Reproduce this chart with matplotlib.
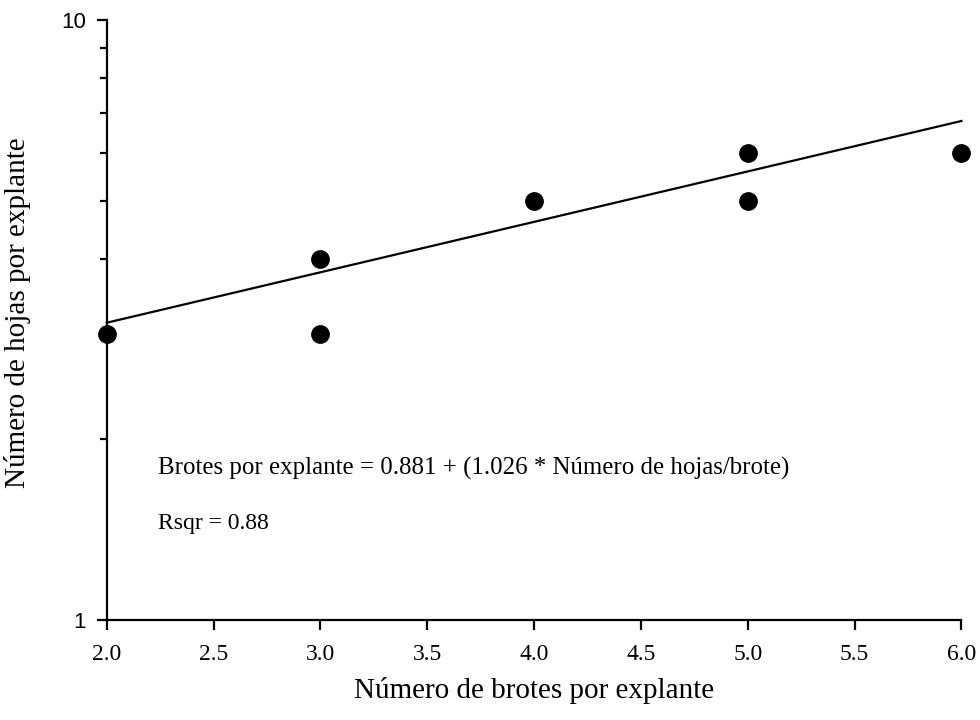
import numpy as np
from matplotlib import pyplot as plt
from matplotlib.ticker import LogLocator, NullFormatter, FixedLocator

brotes = [2, 3, 3, 4, 5, 5, 6]
hojas = [3, 4, 3, 5, 6, 5, 6]

line_x = [2.0, 6.0]
line_y = [3.13, 6.79]

xticks = [2.0, 2.5, 3.0, 3.5, 4.0, 4.5, 5.0, 5.5, 6.0]

fig = plt.figure(figsize=(9.8, 7.2), dpi=100)
ax = fig.add_axes([0.109, 0.139, 0.872, 0.833])

ax.plot(line_x, line_y, color='k', lw=1.6, clip_on=False)
ax.plot(brotes, hojas, 'o', color='k', ms=12.5, clip_on=False, zorder=3)

ax.set_yscale('log')
ax.set_ylim(1, 10)
ax.set_xlim(2, 6)

ax.spines['top'].set_visible(False)
ax.spines['right'].set_visible(False)
ax.spines['left'].set_linewidth(1.6)
ax.spines['bottom'].set_linewidth(1.6)

ax.set_xticks(xticks)
ax.set_xticklabels(['%.1f' % t for t in xticks], family='Liberation Serif', fontsize=17)
ax.yaxis.set_major_locator(FixedLocator([1, 10]))
ax.set_yticklabels(['1', '10'], family='Liberation Sans', fontsize=16)
ax.yaxis.set_minor_locator(LogLocator(base=10, subs=np.arange(2, 10)))
ax.yaxis.set_minor_formatter(NullFormatter())
ax.tick_params(axis='x', which='major', direction='out', length=7, width=1.6, pad=10)
ax.tick_params(axis='y', which='major', direction='out', length=7, width=1.6, pad=8)
ax.tick_params(axis='y', which='minor', direction='out', length=5, width=1.6)

ax.set_xlabel('Número de brotes por explante', family='Liberation Serif', fontsize=21)
ax.set_ylabel('Número de hojas por explante', family='Liberation Serif', fontsize=21)
ax.xaxis.set_label_coords(0.5, -0.095)
ax.yaxis.set_label_coords(-0.089, 0.513)

ax.text(2.24, 1.79, 'Brotes por explante = 0.881 + (1.026 * Número de hojas/brote)',
        family='Liberation Serif', fontsize=17.9, va='center')
ax.text(2.24, 1.45, 'Rsqr = 0.88', family='Liberation Serif', fontsize=17, va='center')

plt.savefig('out.png')
plt.close()
